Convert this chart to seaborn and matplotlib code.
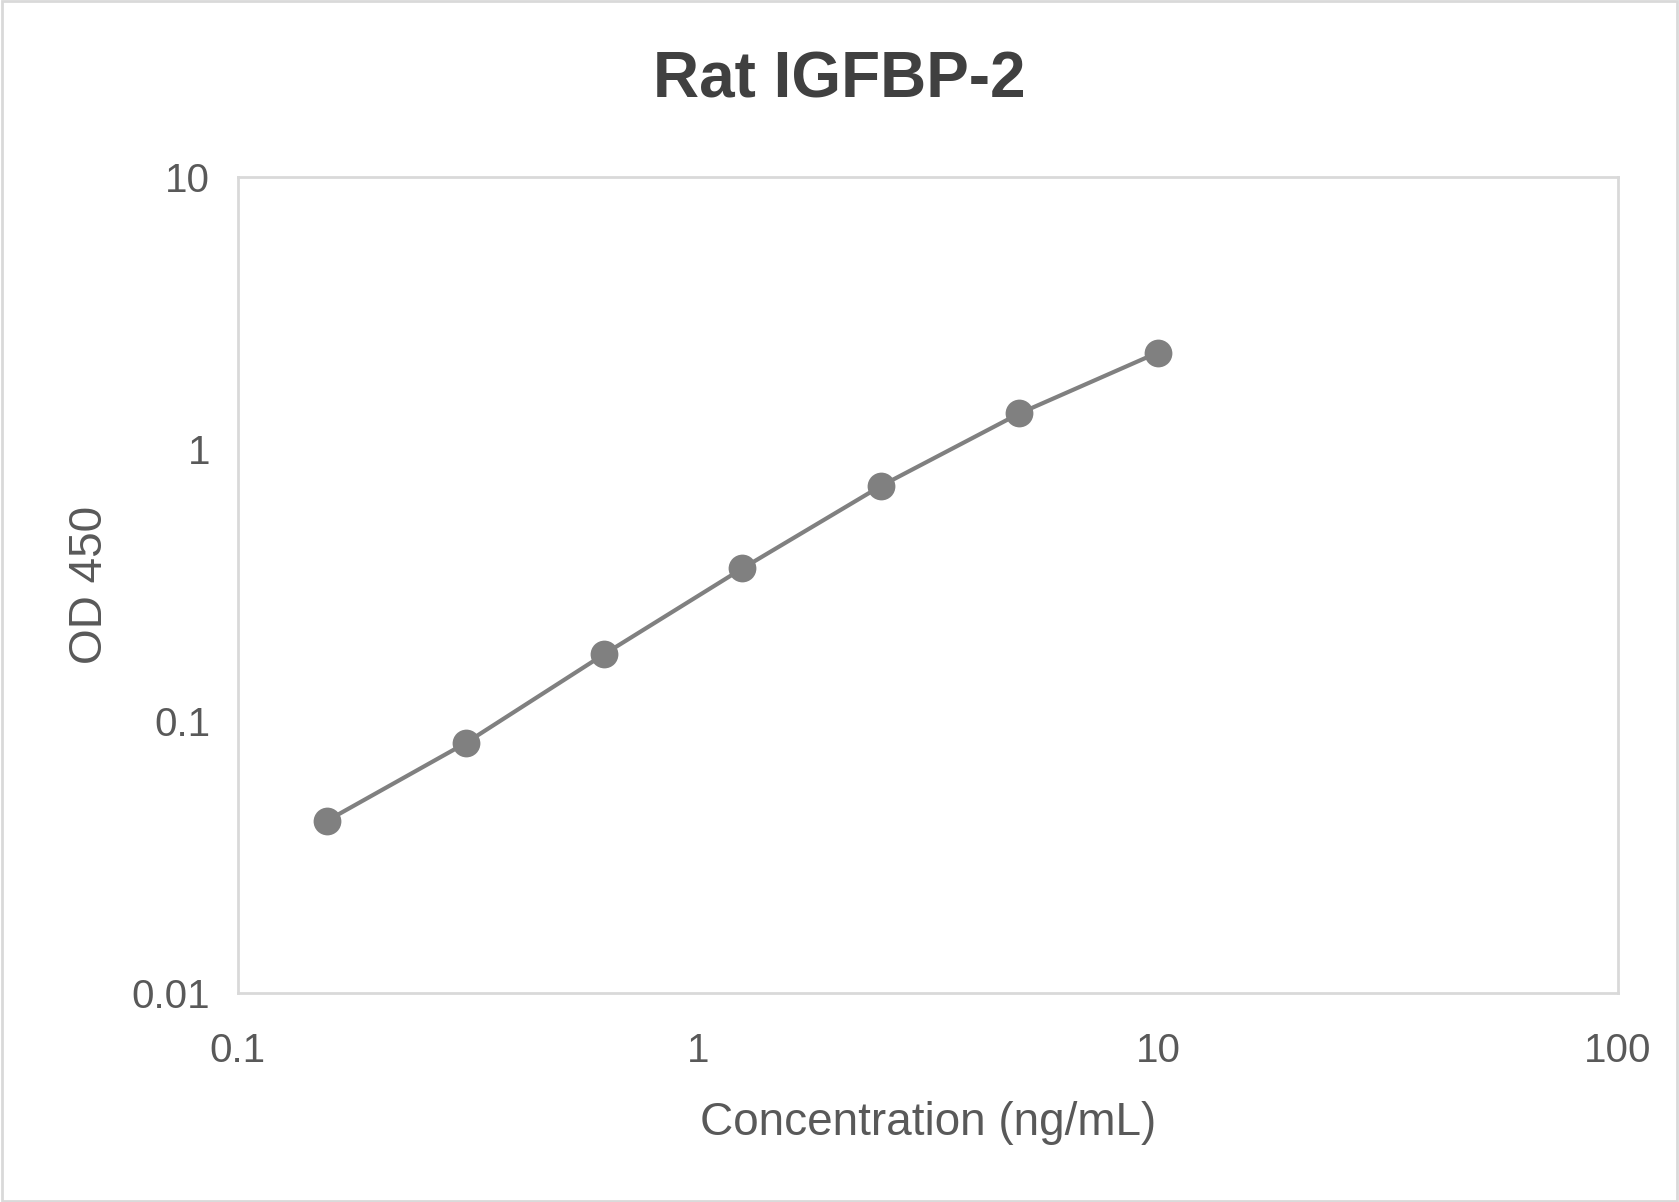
import matplotlib
matplotlib.use("Agg")
import matplotlib.pyplot as plt
import seaborn as sns
import pandas as pd
from matplotlib.patches import Rectangle

concentration = [0.156, 0.3125, 0.625, 1.25, 2.5, 5, 10]
od450 = [0.043, 0.083, 0.176, 0.364, 0.731, 1.35, 2.26]
x_ticks = [0.1, 1, 10, 100]
x_tick_labels = ["0.1", "1", "10", "100"]
y_ticks = [0.01, 0.1, 1, 10]
y_tick_labels = ["0.01", "0.1", "1", "10"]
title = "Rat IGFBP-2"
x_label = "Concentration (ng/mL)"
y_label = "OD 450"

sns.set_theme(style="white")
plt.rcParams["font.family"] = ["Liberation Sans", "DejaVu Sans"]

df = pd.DataFrame({"conc": concentration, "od": od450})

fig = plt.figure(figsize=(16.79, 12.02), dpi=100)
ax = fig.add_axes([0.1417, 0.1736, 0.9636 - 0.1417, 0.853 - 0.1736])

sns.lineplot(data=df, x="conc", y="od", ax=ax, color="#808080", linewidth=3.0,
             marker="o", markersize=20, markeredgewidth=0, markerfacecolor="#808080")

ax.set_xscale("log")
ax.set_yscale("log")
ax.set_xlim(0.1, 100)
ax.set_ylim(0.01, 10)
ax.set_xticks(x_ticks, x_tick_labels)
ax.set_yticks(y_ticks, y_tick_labels)
ax.minorticks_off()
ax.tick_params(axis="both", length=0, labelsize=29, labelcolor="#595959")
ax.tick_params(axis="x", pad=28)
ax.tick_params(axis="y", pad=20)
for s in ax.spines.values():
    s.set_color("#d9d9d9")
    s.set_linewidth(2)
ax.grid(False)

ax.set_xlabel(x_label, fontsize=33, color="#595959", labelpad=22)
ax.set_ylabel(y_label, fontsize=33, color="#595959", labelpad=14)
fig.text(0.5, 1 - 80 / 1202, title, fontsize=46, fontweight="bold", color="#404040",
         ha="center", va="center")

fig.patches.append(Rectangle((0.001, 0.001), 0.998, 0.998, transform=fig.transFigure,
                             fill=False, edgecolor="#d9d9d9", linewidth=2))

fig.savefig("out.png", dpi=100, facecolor="white")
